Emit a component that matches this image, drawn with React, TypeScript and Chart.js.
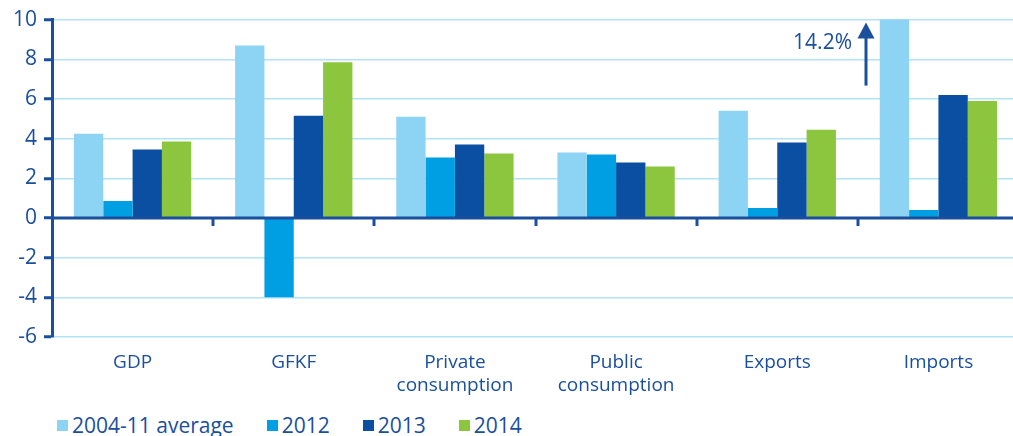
import React, { useEffect, useRef } from "react";
import { Chart, registerables } from "chart.js";

Chart.register(...registerables);

// ---- data ----
const categories: string[][] = [
  ["GDP"],
  ["GFKF"],
  ["Private", "consumption"],
  ["Public", "consumption"],
  ["Exports"],
  ["Imports"],
];
const seriesNames = ["2004-11 average", "2012", "2013", "2014"];
const avg200411 = [4.25, 8.7, 5.1, 3.3, 5.4, 14.2];
const values2012 = [0.85, -4.0, 3.05, 3.2, 0.5, 0.4];
const values2013 = [3.45, 5.15, 3.7, 2.8, 3.8, 6.2];
const values2014 = [3.85, 7.85, 3.25, 2.6, 4.45, 5.9];
const yMin = -6;
const yMax = 10;
const yStep = 2;
const annotationText = "14.2%";
const annotationCategoryIndex = 5;

// ---- styles ----
const COLORS = ["#8DD3F3", "#009FE3", "#0A4FA2", "#8CC63F"];
const DARK = "#1A4F9E";
const GRID = "#B2E2F6";
const FONT = "'Open Sans', 'DejaVu Sans', sans-serif";

const overlayPlugin = {
  id: "overlay",
  afterDatasetsDraw(chart: any) {
    const { ctx, chartArea, scales } = chart;
    const xs = scales.x;
    const ys = scales.y;
    const y0 = ys.getPixelForValue(0);
    ctx.save();
    ctx.strokeStyle = DARK;
    ctx.lineWidth = 3;
    // zero line
    ctx.beginPath();
    ctx.moveTo(chartArea.left, y0);
    ctx.lineTo(chartArea.right, y0);
    ctx.stroke();
    // category separator ticks
    for (let i = 1; i < categories.length; i++) {
      const x = (xs.getPixelForValue(i - 1) + xs.getPixelForValue(i)) / 2;
      ctx.beginPath();
      ctx.moveTo(Math.round(x), y0);
      ctx.lineTo(Math.round(x), y0 + 8);
      ctx.stroke();
    }
    // arrow annotation
    const bar = chart.getDatasetMeta(0).data[annotationCategoryIndex];
    if (bar) {
      const ax = Math.round(bar.x - bar.width / 2 - 14);
      const top = chartArea.top;
      ctx.beginPath();
      ctx.moveTo(ax, top + 66);
      ctx.lineTo(ax, top + 18);
      ctx.stroke();
      ctx.fillStyle = DARK;
      ctx.beginPath();
      ctx.moveTo(ax, top + 3);
      ctx.lineTo(ax - 8.5, top + 19);
      ctx.lineTo(ax + 8.5, top + 19);
      ctx.closePath();
      ctx.fill();
      ctx.font = `21px ${FONT}`;
      ctx.textAlign = "right";
      ctx.textBaseline = "middle";
      ctx.fillText(annotationText, ax - 14, top + 23);
    }
    ctx.restore();
  },
};

export default function App() {
  const canvasRef = useRef<HTMLCanvasElement | null>(null);

  useEffect(() => {
    document.body.style.margin = "0";
    document.body.style.overflow = "hidden";
    const canvas = canvasRef.current;
    if (!canvas) return;
    const series = [avg200411, values2012, values2013, values2014];
    const chart = new Chart(canvas, {
      type: "bar",
      data: {
        labels: categories,
        datasets: series.map((d, i) => ({
          label: seriesNames[i],
          data: d,
          backgroundColor: COLORS[i],
          borderWidth: 0,
          barPercentage: 1,
          categoryPercentage: 0.728,
        })),
      },
      options: {
        responsive: false,
        animation: false,
        devicePixelRatio: 1,
        layout: { padding: { top: 18, left: 0, right: 0, bottom: 4 } },
        plugins: {
          legend: { display: false },
          tooltip: { enabled: false },
        },
        scales: {
          x: {
            afterFit: (scale: any) => {
              scale.height = 59;
            },
            grid: { display: false, drawTicks: false },
            border: { display: false },
            ticks: {
              color: DARK,
              font: { family: FONT, size: 19, lineHeight: 1.2 },
              padding: 14,
              maxRotation: 0,
              autoSkip: false,
            },
          },
          y: {
            min: yMin,
            max: yMax,
            afterFit: (scale: any) => {
              scale.width = 52;
            },
            ticks: {
              stepSize: yStep,
              color: DARK,
              font: { family: FONT, size: 21 },
              padding: 7,
            },
            grid: {
              color: GRID,
              lineWidth: 1.5,
              tickColor: DARK,
              tickWidth: 3,
              tickLength: 8,
            },
            border: { display: true, color: DARK, width: 3 },
          },
        },
      },
      plugins: [overlayPlugin],
    });
    return () => chart.destroy();
  }, []);

  return (
    <div style={{ position: "fixed", left: 0, top: 0, width: 1013, height: 436, overflow: "hidden", background: "#fff" }}>
      <canvas ref={canvasRef} width={1019} height={400} style={{ display: "block" }} />
      <div
        style={{
          position: "absolute",
          left: 57,
          top: 413,
          display: "flex",
          alignItems: "center",
          fontFamily: FONT,
          fontSize: 21,
          lineHeight: "24px",
          color: DARK,
          whiteSpace: "nowrap",
        }}
      >
        {seriesNames.map((name, i) => (
          <div key={name} style={{ display: "flex", alignItems: "center", marginRight: 33 }}>
            <span style={{ display: "inline-block", width: 11, height: 11, background: COLORS[i], marginRight: 4 }} />
            <span>{name}</span>
          </div>
        ))}
      </div>
    </div>
  );
}
